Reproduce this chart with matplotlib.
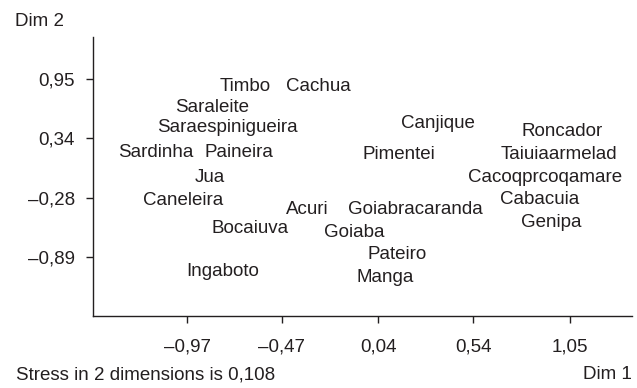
import matplotlib
matplotlib.use("Agg")
import matplotlib.pyplot as plt
from matplotlib.transforms import offset_copy

# MDS configuration of species (two dimensions)
names = ["Timbo", "Cachua", "Saraleite", "Saraespinigueira", "Sardinha", "Paineira",
         "Jua", "Caneleira", "Bocaiuva", "Acuri", "Ingaboto", "Canjique", "Roncador",
         "Pimentei", "Taiuiaarmelad", "Cacoqprcoqamare", "Cabacuia", "Genipa",
         "Goiabracaranda", "Goiaba", "Pateiro", "Manga"]
dim1 = [-0.664, -0.279, -0.838, -0.759, -1.134, -0.696,
        -0.849, -0.991, -0.638, -0.337, -0.780, 0.354, 1.008,
        0.148, 0.992, 0.918, 0.892, 0.950,
        0.233, -0.089, 0.138, 0.074]
dim2 = [0.888, 0.888, 0.671, 0.464, 0.205, 0.205,
        -0.053, -0.291, -0.580, -0.384, -1.025, 0.505, 0.423,
        0.185, 0.185, -0.053, -0.281, -0.518,
        -0.384, -0.622, -0.849, -1.087]

xticks = [-0.97, -0.47, 0.04, 0.54, 1.05]
yticks = [0.95, 0.34, -0.28, -0.89]
stress = 0.108

plt.rcParams['font.family'] = ['Liberation Sans', 'DejaVu Sans']

def fmt(v):
    s = f"{abs(v):.2f}".replace(".", ",")
    return ("\u2013" + s) if v < 0 else s

FS = 13.5
fig = plt.figure(figsize=(6.37, 3.88), dpi=100)
ax = fig.add_axes([0.146, 0.1856, 0.846, 0.719])
ax.set_xlim(-1.466, 1.377)
ax.set_ylim(-1.50, 1.384)

txtcol = "#231f20"
# centre each name on its coordinates (small baseline nudge)
label_tr = offset_copy(ax.transData, fig=fig, x=0, y=-1.5, units="dots")
for n, x, y in zip(names, dim1, dim2):
    ax.text(x, y, n, ha="center", va="center", fontsize=FS, color=txtcol,
            transform=label_tr)

for s in ["top", "right"]:
    ax.spines[s].set_visible(False)
for s in ["left", "bottom"]:
    ax.spines[s].set_linewidth(1.0)
    ax.spines[s].set_color(txtcol)

ax.set_xticks(xticks)
ax.set_xticklabels([fmt(v) for v in xticks])
ax.set_yticks(yticks)
ax.set_yticklabels([fmt(v) for v in yticks])
ax.tick_params(axis="both", labelsize=FS, colors=txtcol, length=5, width=1.0)
ax.tick_params(axis="x", pad=11)
ax.tick_params(axis="y", pad=8)

fig.text(15 / 637, 1 - 21.5 / 388, "Dim 2", ha="left", va="center", fontsize=FS, color=txtcol)
fig.text(632 / 637, 1 - 374.5 / 388, "Dim 1", ha="right", va="center", fontsize=FS, color=txtcol)
fig.text(16 / 637, 1 - 374.5 / 388, "Stress in 2 dimensions is " + f"{stress:.3f}".replace(".", ","),
         ha="left", va="center", fontsize=FS, color=txtcol)

fig.savefig("out.png", dpi=100)
